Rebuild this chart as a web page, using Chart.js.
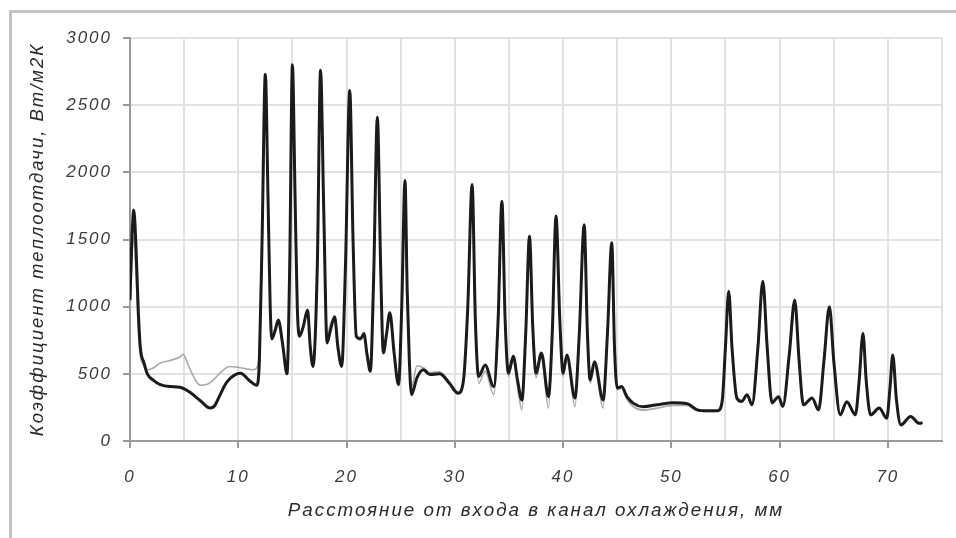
<!DOCTYPE html>
<html>
<head>
<meta charset="utf-8">
<script src="https://cdn.jsdelivr.net/npm/chart.js@4"></script>
<style>
  html, body { margin: 0; padding: 0; background: #fff; }
  #wrap { position: relative; width: 956px; height: 538px; overflow: hidden; }
  #frame { position: absolute; left: 9px; top: 10px; width: 2000px; height: 2000px;
           border-left: 3px solid #c4c4c4; border-top: 3px solid #c4c4c4; pointer-events: none; }
  canvas { position: absolute; left: 0; top: 0; }
</style>
</head>
<body>
<div id="wrap">
  <canvas id="c" width="956" height="538"></canvas>
  <div id="frame"></div>
</div>
<script>
// ---- data ----
const xTickLabels = [0, 10, 20, 30, 40, 50, 60, 70];
const yTickLabels = [0, 500, 1000, 1500, 2000, 2500, 3000];

const blackX = [0.0, 0.15, 0.35, 0.55, 0.75, 0.95, 1.3, 1.6, 2.2, 2.8, 3.7, 4.6, 5.5, 6.5, 7.4, 7.8, 8.3, 8.8, 9.3, 10.2, 11.1, 11.7,
  11.95, 12.2, 12.5, 12.75, 12.95, 13.1, 13.4, 13.7, 14.1, 14.5,
  14.75, 15.0, 15.25, 15.45, 15.65, 16.0, 16.4, 16.65, 16.9,
  17.3, 17.6, 17.9, 18.2, 18.5, 18.9, 19.2, 19.55,
  19.9, 20.3, 20.6, 20.9, 21.3, 21.6, 21.9, 22.2,
  22.5, 22.85, 23.15, 23.4, 23.7, 24.0, 24.4, 24.8,
  25.1, 25.4, 25.6, 25.8, 26.0, 26.5, 27.1, 27.7, 28.6, 29.5, 30.3, 30.8,
  31.2, 31.6, 31.9, 32.2, 32.8, 33.6,
  34.0, 34.35, 34.65, 34.95, 35.4, 35.8, 36.2,
  36.55, 36.9, 37.2, 37.5, 38.0, 38.65,
  39.0, 39.35, 39.7, 40.0, 40.35, 41.1,
  41.5, 41.95, 42.25, 42.5, 42.9, 43.7,
  44.1, 44.5, 44.75, 45.0, 45.4, 45.9, 46.5, 47.4, 48.7, 50.2, 51.45, 52.4, 53.3, 54.3,
  54.7, 55.0, 55.3, 55.6, 56.05, 56.5, 57.0, 57.45,
  58.0, 58.45, 58.85, 59.3, 59.9, 60.3,
  60.9, 61.4, 61.8, 62.2, 63.0, 63.6,
  64.1, 64.6, 65.0, 65.6, 66.2, 67.0,
  67.35, 67.7, 68.0, 68.4, 69.2, 69.9,
  70.2, 70.45, 70.8, 71.2, 72.1, 72.9, 73.2];
const blackY = [1050, 1450, 1720, 1450, 1000, 700, 580, 500, 450, 420, 405, 400, 365, 300, 245, 260, 340, 420, 470, 505, 445, 415,
  600, 1500, 2730, 1800, 1000, 760, 820, 900, 720, 500,
  1300, 2800, 1800, 1000, 780, 850, 975, 700, 555,
  1300, 2760, 1700, 730, 820, 925, 700, 555,
  1300, 2610, 1500, 780, 760, 800, 640, 520,
  1200, 2410, 1300, 655, 800, 955, 650, 420,
  1000, 1940, 1130, 600, 345, 470, 530, 495, 500, 430, 355, 450,
  1000, 1910, 900, 480, 565, 405,
  900, 1785, 900, 505, 630, 450, 305,
  800, 1525, 850, 505, 655, 330,
  800, 1675, 900, 505, 640, 320,
  800, 1610, 800, 455, 590, 305,
  800, 1475, 700, 395, 405, 330, 280, 255, 270, 285, 278, 232, 225, 226,
  300, 700, 1115, 700, 320, 295, 345, 270,
  700, 1190, 700, 285, 330, 258,
  650, 1050, 600, 270, 320, 232,
  600, 1000, 600, 195, 293, 195,
  450, 800, 450, 195, 245, 170,
  400, 640, 300, 120, 182, 132, 135];

const grayX = [0.0, 0.15, 0.35, 0.55, 0.75, 0.95, 1.3, 1.6, 2.2, 2.8, 3.7, 4.6, 4.9, 5.4, 6.0, 6.5, 7.2, 7.7, 8.5, 9.2, 10.2, 11.4, 11.8,
  12.05, 12.3, 12.5, 12.75, 12.95, 13.1, 13.4, 13.7, 14.1, 14.5,
  14.75, 15.0, 15.25, 15.45, 15.65, 16.0, 16.4, 16.65, 16.9,
  17.3, 17.6, 17.9, 18.2, 18.5, 18.9, 19.2, 19.55,
  19.9, 20.3, 20.6, 20.9, 21.3, 21.6, 21.9, 22.2,
  22.5, 22.85, 23.15, 23.4, 23.7, 24.0, 24.4, 24.8,
  25.1, 25.4, 25.6, 25.8, 26.0, 26.5, 27.1, 27.7, 28.6, 29.5, 30.3, 30.8,
  31.2, 31.6, 31.9, 32.2, 32.8, 33.6,
  34.0, 34.35, 34.65, 34.95, 35.4, 35.8, 36.2,
  36.55, 36.9, 37.2, 37.5, 38.0, 38.65,
  39.0, 39.35, 39.7, 40.0, 40.35, 41.1,
  41.5, 41.95, 42.25, 42.5, 42.9, 43.7,
  44.1, 44.5, 44.75, 45.0, 45.4, 45.9, 46.5, 47.4, 48.7, 50.2, 51.45, 52.4, 53.3, 54.3,
  54.7, 55.0, 55.3, 55.6, 56.05, 56.5, 57.0, 57.45,
  58.0, 58.45, 58.85, 59.3, 59.9, 60.3,
  60.9, 61.4, 61.8, 62.2, 63.0, 63.6,
  64.1, 64.6, 65.0, 65.6, 66.2, 67.0,
  67.35, 67.7, 68.0, 68.4, 69.2, 69.9,
  70.2, 70.45, 70.8, 71.2, 72.1, 72.9, 73.2];
const grayY = [950, 1300, 1520, 1250, 850, 640, 560, 530, 545, 580, 600, 625, 645, 560, 460, 415, 425, 455, 520, 555, 545, 530, 560,
  900, 1900, 2650, 1800, 1000, 760, 840, 880, 700, 520,
  1300, 2750, 1800, 1000, 790, 860, 960, 700, 570,
  1300, 2700, 1700, 760, 870, 900, 720, 570,
  1300, 2550, 1500, 790, 770, 790, 650, 530,
  1200, 2350, 1300, 680, 810, 930, 640, 430,
  1000, 1880, 1100, 620, 400, 560, 545, 510, 515, 440, 365, 450,
  1000, 1880, 850, 430, 520, 345,
  900, 1740, 880, 480, 600, 400, 230,
  800, 1490, 830, 470, 620, 245,
  800, 1640, 880, 480, 610, 255,
  800, 1580, 780, 430, 560, 245,
  800, 1440, 680, 380, 395, 310, 255, 230, 245, 265, 265, 225, 220, 222,
  300, 690, 1100, 690, 310, 290, 335, 262,
  690, 1170, 690, 278, 322, 250,
  640, 1030, 590, 262, 312, 225,
  590, 980, 590, 190, 285, 190,
  440, 780, 440, 190, 238, 165,
  390, 620, 295, 118, 178, 130, 132];

const xTitle = 'Расстояние от входа в канал охлаждения, мм';
const yTitle = 'Коэффициент теплоотдачи, Вт/м2К';

const toPts = (xs, ys) => xs.map((x, i) => ({ x: x, y: ys[i] }));

const FONT = "'Liberation Sans', Arial, sans-serif";
const spacing = {
  id: 'spacing',
  beforeDraw(chart) { chart.ctx.letterSpacing = '2px'; }
};

new Chart(document.getElementById('c'), {
  type: 'line',
  data: {
    datasets: [
      { label: 'black', data: toPts(blackX, blackY), borderColor: '#1b1b1b', borderWidth: 3,
        pointRadius: 0, cubicInterpolationMode: 'monotone', fill: false },
      { label: 'gray', data: toPts(grayX, grayY), borderColor: '#a8a8a8', borderWidth: 1.6,
        pointRadius: 0, cubicInterpolationMode: 'monotone', fill: false }
    ]
  },
  plugins: [spacing],
  options: {
    responsive: false,
    animation: false,
    events: [],
    layout: { padding: { left: 12, top: 38, right: 14, bottom: 0 } },
    plugins: { legend: { display: false }, tooltip: { enabled: false } },
    scales: {
      x: {
        type: 'linear', min: 0, max: 75,
        afterFit(s) { s.height = 97; s.paddingRight = 0; s.paddingLeft = 0; },
        afterBuildTicks(s) { s.ticks = []; for (let v = 0; v <= 75; v += 5) s.ticks.push({ value: v }); },
        ticks: {
          autoSkip: false, maxRotation: 0, padding: 19, color: '#3a3a3a',
          font: { family: FONT, size: 17, style: 'italic' },
          callback: v => (xTickLabels.includes(v) ? String(v) : '')
        },
        grid: { color: '#e2e2e2', lineWidth: 2, tickLength: 7,
                tickColor: c => (c.tick && c.tick.value % 10 === 0 ? '#9a9a9a' : 'rgba(0,0,0,0)') },
        border: { color: '#9a9a9a', width: 2 },
        title: { display: true, text: xTitle, color: '#2a2a2a', padding: { top: 0, bottom: 16 },
                 font: { family: FONT, size: 18.8, style: 'italic' } }
      },
      y: {
        min: 0, max: 3000,
        afterFit(s) { s.width = 118; },
        afterBuildTicks(s) { s.ticks = yTickLabels.map(v => ({ value: v })); },
        ticks: { padding: 11, color: '#3a3a3a', font: { family: FONT, size: 17, style: 'italic' },
                 callback: v => String(v) },
        grid: { color: '#e2e2e2', lineWidth: 2, tickLength: 7, tickColor: '#9a9a9a' },
        border: { color: '#9a9a9a', width: 2 },
        title: { display: true, text: yTitle, color: '#2a2a2a', padding: { top: 15, bottom: 0 },
                 font: { family: FONT, size: 18.5, style: 'italic' } }
      }
    }
  }
});
</script>
</body>
</html>
